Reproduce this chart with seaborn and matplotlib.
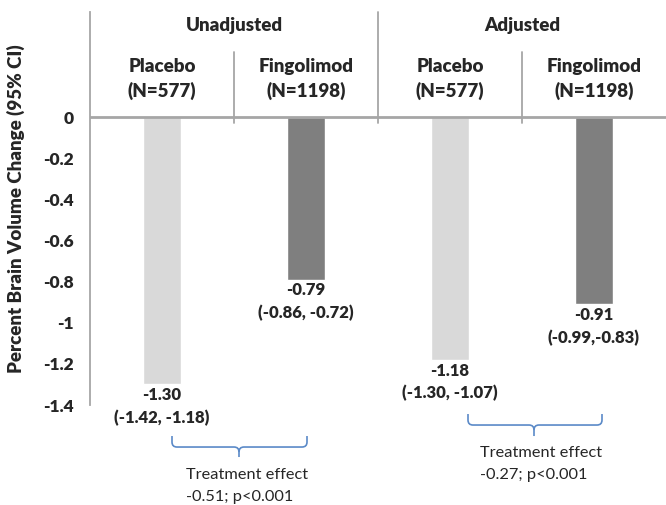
import numpy as np
import pandas as pd
import seaborn as sns
import matplotlib.pyplot as plt
from matplotlib.path import Path
from matplotlib.patches import PathPatch

# ---------------- data ----------------
groups = ["Unadjusted", "Adjusted"]
bar_keys = ["Unadjusted Placebo", "Unadjusted Fingolimod",
            "Adjusted Placebo", "Adjusted Fingolimod"]
bar_treat = ["Placebo", "Fingolimod", "Placebo", "Fingolimod"]
bar_heads = ["Placebo\n(N=577)", "Fingolimod\n(N=1198)",
             "Placebo\n(N=577)", "Fingolimod\n(N=1198)"]
values = [-1.30, -0.79, -1.18, -0.91]
ci_labels = ["(-1.42, -1.18)", "(-0.86, -0.72)", "(-1.30, -1.07)", "(-0.99,-0.83)"]
effect_labels = ["Treatment effect\n-0.51; p<0.001", "Treatment effect\n-0.27; p<0.001"]
yticks = [0, -0.2, -0.4, -0.6, -0.8, -1.0, -1.2, -1.4]
ytick_labels = ["0", "-0.2", "-0.4", "-0.6", "-0.8", "-1", "-1.2", "-1.4"]
ylabel = "Percent Brain Volume Change (95% CI)"

# ---------------- style ----------------
sns.set_style("white")
plt.rcParams["font.family"] = ["Lato", "DejaVu Sans"]
GRAY = "#A6A6A6"
BLUE = "#5B8AC8"
BOLD = "heavy"

fig = plt.figure(figsize=(6.66, 5.05), dpi=100)
ax = fig.add_axes([90 / 666, 100 / 505, 576 / 666, 393 / 505])

df = pd.DataFrame({"key": bar_keys, "treatment": bar_treat, "value": values})
sns.barplot(data=df, x="key", y="value", hue="treatment",
            palette={"Placebo": "#D9D9D9", "Fingolimod": "#7F7F7F"},
            dodge=False, width=0.265, saturation=1, legend=False, ax=ax)

PX = 205.7  # pixels per data unit (y)


def yp(p):
    return (117 - p) / PX


def xp(p):
    return (p - 90) / 144 - 0.5


ax.set_xlim(-0.5, 3.5)
ax.set_ylim(-1.4, yp(12))
ax.set_xticks([])
ax.set_xlabel("")
ax.set_yticks(yticks)
ax.set_yticklabels(ytick_labels, fontweight=BOLD, fontsize=12.5)
ax.tick_params(axis="y", direction="out", length=5, width=1, color=GRAY, pad=7)
for s in ["top", "right", "bottom"]:
    ax.spines[s].set_visible(False)
ax.spines["left"].set_color(GRAY)
ax.spines["left"].set_linewidth(1.3)
ax.axhline(0, color=GRAY, lw=2, zorder=3)

ax.set_ylabel(ylabel, fontweight=BOLD, fontsize=13.5)
ax.yaxis.set_label_coords(-0.112, 0.5)

# separators
ax.plot([1.5, 1.5], [yp(123), yp(12)], color=GRAY, lw=1.3, clip_on=False)
for xs in [0.5, 2.5]:
    ax.plot([xs, xs], [yp(123), yp(52)], color=GRAY, lw=1.3, clip_on=False)

# headers
for gi, g in enumerate(groups):
    ax.text(gi * 2 + 0.5, yp(25), g, ha="center", va="center",
            fontweight=BOLD, fontsize=13.5)
for i, h in enumerate(bar_heads):
    ax.text(i, yp(79), h, ha="center", va="center", fontweight=BOLD,
            fontsize=13.5, linespacing=1.4)

# value labels
for i, (v, ci) in enumerate(zip(values, ci_labels)):
    ax.annotate(f"{v:.2f}\n{ci}", xy=(i, v), xytext=(0, -2),
                textcoords="offset points", ha="center", va="top",
                fontweight=BOLD, fontsize=12, linespacing=1.5,
                annotation_clip=False)


# braces
def brace(x0, x1, xm, ytop, yh, ytip):
    rx, ry = 5 / 144, 5 / PX
    verts = [(x0, ytop), (x0, yh + ry), (x0, yh), (x0 + rx, yh),
             (xm - rx, yh), (xm, yh), (xm, yh - ry), (xm, ytip)]
    codes = [Path.MOVETO, Path.LINETO, Path.CURVE3, Path.CURVE3,
             Path.LINETO, Path.CURVE3, Path.CURVE3, Path.LINETO]
    verts2 = [(x1, ytop), (x1, yh + ry), (x1, yh), (x1 - rx, yh),
              (xm + rx, yh), (xm, yh), (xm, yh - ry)]
    codes2 = [Path.MOVETO, Path.LINETO, Path.CURVE3, Path.CURVE3,
              Path.LINETO, Path.CURVE3, Path.CURVE3]
    for vv, cc in [(verts, codes), (verts2, codes2)]:
        ax.add_patch(PathPatch(Path(vv, cc), fill=False, edgecolor=BLUE,
                               lw=1.2, clip_on=False))


brace(xp(172), xp(307), xp(239), yp(436), yp(447), yp(457))
brace(xp(468), xp(602), xp(534), yp(414), yp(425), yp(436))

ax.text(xp(186), yp(486), effect_labels[0], ha="left", va="center",
        fontsize=11.8, linespacing=1.7)
ax.text(xp(480), yp(464), effect_labels[1], ha="left", va="center",
        fontsize=11.8, linespacing=1.7)

fig.savefig("out.png", dpi=100)
